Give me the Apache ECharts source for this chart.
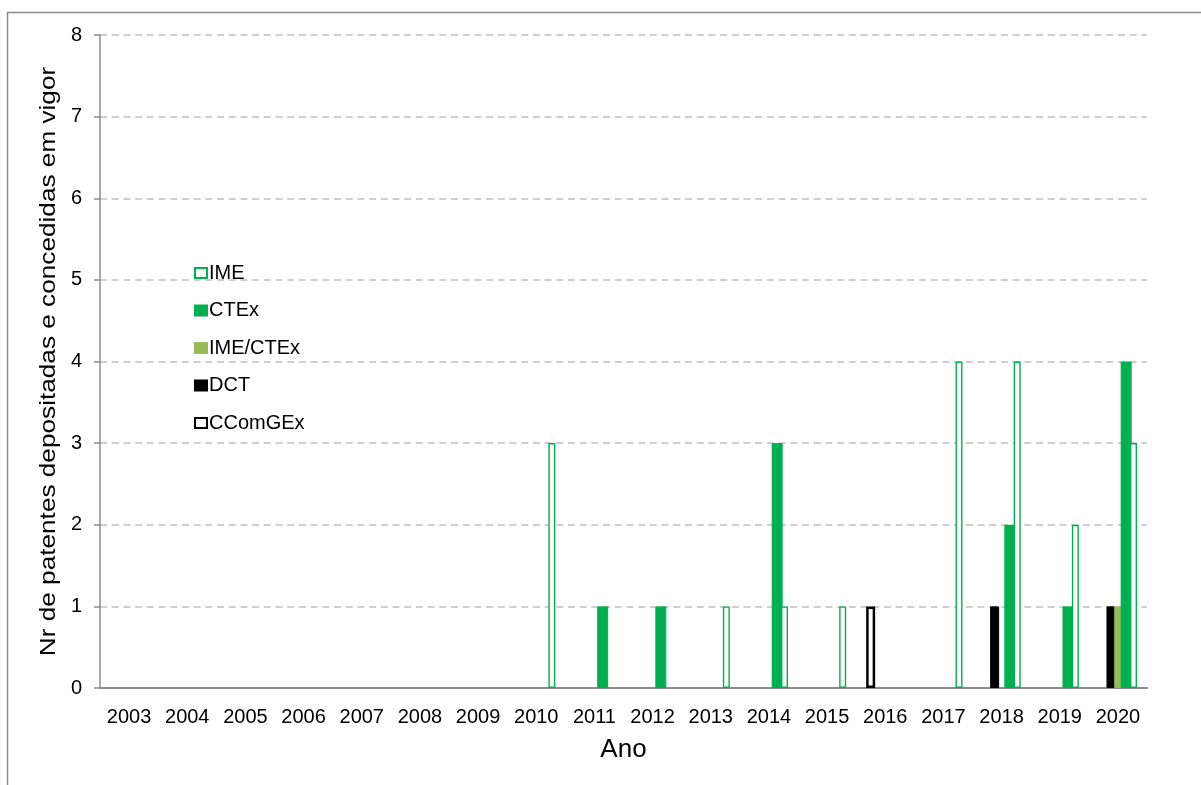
<!DOCTYPE html>
<html>
<head>
<meta charset="utf-8">
<title>Patentes depositadas e concedidas em vigor</title>
<script src="https://cdn.jsdelivr.net/npm/echarts@6/dist/echarts.min.js"></script>
<style>
  html, body { margin: 0; padding: 0; background: #fff; }
  #chart { width: 1201px; height: 785px; }
</style>
</head>
<body>
<div id="chart"></div>
<script>
// Years on the category axis
const years = ['2003', '2004', '2005', '2006', '2007', '2008', '2009', '2010', '2011',
  '2012', '2013', '2014', '2015', '2016', '2017', '2018', '2019', '2020'];

// Patents filed and granted in force, per institution and year
const ccomgex = [0, 0, 0, 0, 0, 0, 0, 0, 0, 0, 0, 0, 0, 1, 0, 0, 0, 0];
const dct     = [0, 0, 0, 0, 0, 0, 0, 0, 0, 0, 0, 0, 0, 0, 0, 1, 0, 1];
const imeCtex = [0, 0, 0, 0, 0, 0, 0, 0, 0, 0, 0, 0, 0, 0, 0, 0, 0, 1];
const ctex    = [0, 0, 0, 0, 0, 0, 0, 0, 1, 1, 0, 3, 0, 0, 0, 2, 1, 4];
const ime     = [0, 0, 0, 0, 0, 0, 0, 3, 0, 0, 1, 1, 1, 0, 4, 4, 2, 3];

// Value axis ticks
const yMin = 0, yMax = 8, yStep = 1;

const legendOrder = ['IME', 'CTEx', 'IME/CTEx', 'DCT', 'CComGEx'];
const yTitle = 'Nr de patentes depositadas e concedidas em vigor';
const xTitle = 'Ano';

const FONT = "'Liberation Sans', Arial, sans-serif";
const GREEN = '#00b050';
const OLIVE = '#9bbb59';

// empty years draw no bar at all
const asBars = arr => arr.map(v => (v === 0 ? '-' : v));

function barSeries(name, values, width, itemStyle) {
  return {
    name,
    type: 'bar',
    data: asBars(values),
    barWidth: width,
    barGap: '-15%',
    itemStyle,
    emphasis: { disabled: true }
  };
}

const chart = echarts.init(document.getElementById('chart'), null, { renderer: 'canvas' });

chart.setOption({
  animation: false,
  backgroundColor: '#ffffff',
  textStyle: { fontFamily: FONT },
  grid: { left: 100, right: 54, top: 35, bottom: 97, containLabel: false },
  legend: {
    data: legendOrder,
    orient: 'vertical',
    left: 189,
    top: 258,
    itemWidth: 12,
    itemHeight: 10,
    itemGap: 17.5,
    icon: 'rect',
    textStyle: { fontFamily: FONT, fontSize: 20, color: '#000', padding: [0, 0, 0, -3] },
    selectedMode: false
  },
  xAxis: {
    type: 'category',
    data: years,
    name: xTitle,
    nameLocation: 'middle',
    nameGap: 49,
    nameTextStyle: { fontFamily: FONT, fontSize: 26, color: '#000' },
    axisLine: { lineStyle: { color: '#8c8c8c', width: 2 } },
    axisTick: { show: false },
    axisLabel: { fontFamily: FONT, fontSize: 20, color: '#000', margin: 19 },
    splitLine: { show: false }
  },
  yAxis: {
    type: 'value',
    min: yMin,
    max: yMax,
    interval: yStep,
    axisLine: { show: true, lineStyle: { color: '#8c8c8c', width: 1.5 } },
    axisTick: { show: true, length: 6, lineStyle: { color: '#8c8c8c', width: 1.5 } },
    axisLabel: { fontFamily: FONT, fontSize: 20, color: '#000', margin: 18 },
    splitLine: {
      show: true,
      lineStyle: { color: '#c0c0c0', width: 1.5, type: [7, 4.7] }
    }
  },
  graphic: [
    {
      // frame round the chart area
      type: 'rect',
      silent: true,
      z: -1,
      shape: { x: 7.5, y: 12.5, width: 1250, height: 850 },
      style: { fill: 'none', stroke: '#8c8c8c', lineWidth: 1.5 }
    },
    {
      // value axis title, set on its side
      type: 'text',
      silent: true,
      x: 49,
      y: 361.5,
      rotation: Math.PI / 2,
      scaleX: 1.19,
      style: {
        text: yTitle,
        font: '22px ' + FONT,
        fill: '#000',
        align: 'center',
        verticalAlign: 'middle'
      }
    }
  ],
  series: [
    barSeries('CComGEx', ccomgex, 9, { color: '#ffffff', borderColor: '#000000', borderWidth: 2.5 }),
    barSeries('DCT', dct, 9, { color: '#000000', borderColor: '#000000', borderWidth: 1 }),
    barSeries('IME/CTEx', imeCtex, 7.7, { color: OLIVE, borderColor: OLIVE, borderWidth: 0.5 }),
    barSeries('CTEx', ctex, 11, { color: GREEN, borderColor: GREEN, borderWidth: 1 }),
    barSeries('IME', ime, 7, { color: '#ffffff', borderColor: GREEN, borderWidth: 1.4 })
  ]
});
</script>
</body>
</html>
